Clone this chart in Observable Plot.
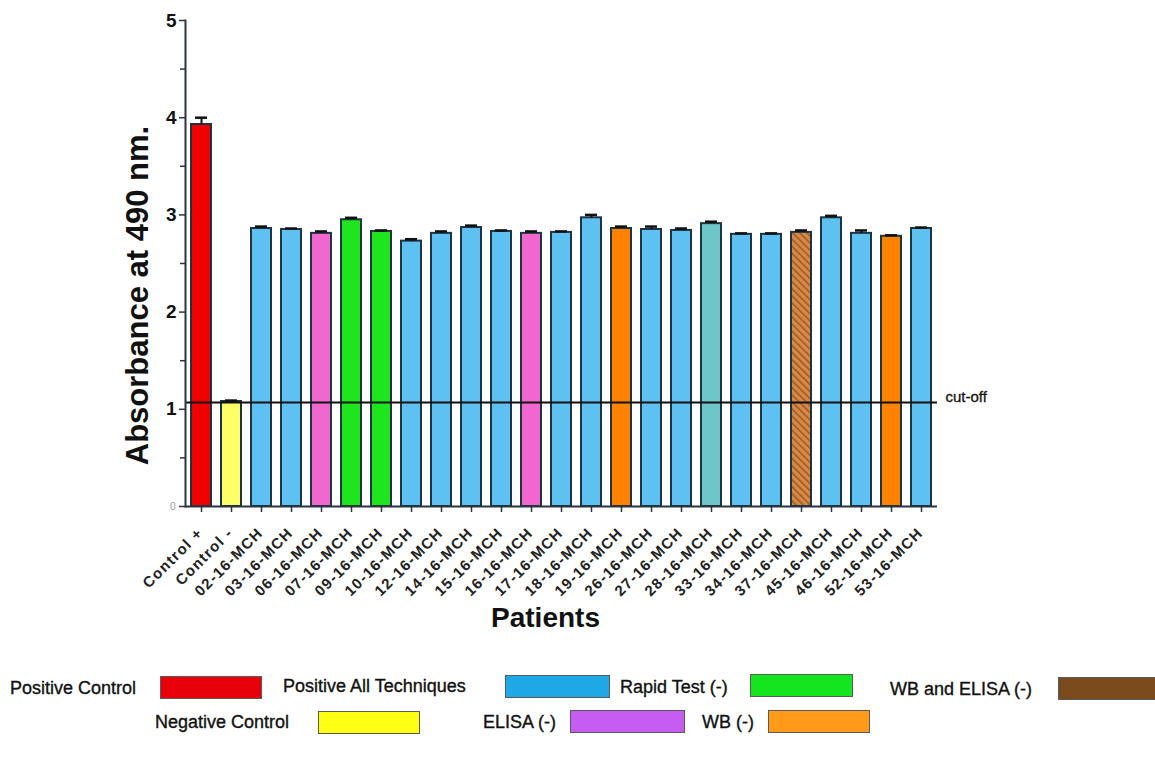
<!DOCTYPE html>
<html><head><meta charset="utf-8">
<script src="https://cdn.jsdelivr.net/npm/d3@7"></script>
<script src="https://cdn.jsdelivr.net/npm/@observablehq/plot@0.6"></script>
<style>
body{margin:0;background:#fff;font-family:"Liberation Sans",Arial,sans-serif;}
#wrap{position:relative;width:1155px;height:763px;overflow:hidden;background:#fff;}
#chart svg{display:block;}
.lg{position:absolute;font-size:18px;color:#111;white-space:nowrap;line-height:18px;-webkit-text-stroke:0.35px #111;}
.sw{position:absolute;box-sizing:border-box;border:1.5px solid #5a5a5a;}
</style></head><body>
<div id="wrap"><div id="chart"></div><div id="legend"></div></div>
<script>
// ---- data ----
const patients = ["Control +","Control -","02-16-MCH","03-16-MCH","06-16-MCH","07-16-MCH","09-16-MCH","10-16-MCH","12-16-MCH","14-16-MCH","15-16-MCH","16-16-MCH","17-16-MCH","18-16-MCH","19-16-MCH","26-16-MCH","27-16-MCH","28-16-MCH","33-16-MCH","34-16-MCH","37-16-MCH","45-16-MCH","46-16-MCH","52-16-MCH","53-16-MCH"];
const absorbance = [3.93,1.08,2.86,2.85,2.81,2.95,2.83,2.73,2.81,2.87,2.83,2.81,2.82,2.97,2.86,2.85,2.84,2.91,2.80,2.80,2.82,2.97,2.81,2.78,2.86];
const errors = [0.07,0.01,0.02,0.01,0.02,0.02,0.01,0.02,0.02,0.02,0.01,0.02,0.01,0.03,0.02,0.03,0.02,0.02,0.01,0.01,0.02,0.02,0.03,0.01,0.01];
const groups = ["Positive Control","Negative Control","Positive All Techniques","Positive All Techniques","ELISA (-)","Rapid Test (-)","Rapid Test (-)","Positive All Techniques","Positive All Techniques","Positive All Techniques","Positive All Techniques","ELISA (-)","Positive All Techniques","Positive All Techniques","WB (-)","Positive All Techniques","Positive All Techniques","Other","Positive All Techniques","Positive All Techniques","WB and ELISA (-)","Positive All Techniques","Positive All Techniques","WB (-)","Positive All Techniques"];
const groupNames = ["Positive Control","Negative Control","Positive All Techniques","ELISA (-)","Rapid Test (-)","WB (-)","WB and ELISA (-)","Other"];
const cutoff = 1.07;
const majorTicks = [1,2,3,4,5];
const minorTicks = [0.5,1.5,2.5,3.5,4.5];
const zeroTick = [0];
const legendRow1 = ["Positive Control","Positive All Techniques","Rapid Test (-)","WB and ELISA (-)"];
const legendRow2 = ["Negative Control","ELISA (-)","WB (-)"];

// ---- styles ----
const barFills = ["#f00000","#ffff66","#5ec1f2","#f067cf","#1ee61e","#ff8200","url(#hatch)","#6fc6c8"];
const legendFills = {"Positive Control":"#e8000a","Positive All Techniques":"#1ea9e6","Rapid Test (-)":"#15e51f","WB and ELISA (-)":"#7b4b1d","Negative Control":"#ffff14","ELISA (-)":"#c65cf2","WB (-)":"#ff9a1a"};

const data = patients.map((p,i)=>({patient:p, value:absorbance[i], err:errors[i], group:groups[i]}));

const chart = Plot.plot({
  width: 1155, height: 655,
  marginLeft: 185, marginRight: 218, marginTop: 20, marginBottom: 149,
  style: {fontFamily: "'Liberation Sans', Arial, sans-serif", background: "#fff", color: "#111"},
  x: {domain: patients, paddingInner: 0.34, paddingOuter: 0.13, axis: null},
  y: {domain: [0, 5], axis: null},
  color: {domain: groupNames, range: barFills},
  marks: [
    Plot.barY(data, {x: "patient", y: "value", fill: "group", stroke: "#1d3442", strokeWidth: 2}),
    Plot.ruleX(data, {x: "patient", y1: "value", y2: d => d.value + d.err, stroke: "#111", strokeWidth: 2}),
    Plot.tickY(data, {x: "patient", y: d => d.value + d.err, stroke: "#111", strokeWidth: 2.5, inset: 4}),
    Plot.ruleY([cutoff], {stroke: "#111", strokeWidth: 2}),
    Plot.text([cutoff], {y: d => d, frameAnchor: "right", text: () => "cut-off", textAnchor: "start", dx: 8, dy: -5, fontSize: 15, fill: "#111", stroke: "#111", strokeWidth: 0.3}),
    Plot.ruleY([0], {stroke: "#2a3540", strokeWidth: 2}),
    Plot.frame({anchor: "left", stroke: "#2a3540", strokeWidth: 2}),
    Plot.axisX({tickSize: 6, tickFormat: () => "", label: null, stroke: "#2a3540", strokeWidth: 1.5}),
    Plot.axisY({ticks: majorTicks, tickSize: 6, tickPadding: 3, tickFormat: d => String(d), fontSize: 19, fontWeight: "bold", label: null, stroke: "#2a3540", strokeWidth: 1.5, fill: "#111"}),
    Plot.axisY({ticks: minorTicks, tickSize: 5, tickFormat: () => "", label: null, stroke: "#2a3540", strokeWidth: 1.5}),
    Plot.axisY({ticks: zeroTick, tickSize: 6, tickPadding: 4, tickFormat: d => String(d), fontSize: 10, label: null, fill: "#999", stroke: "#2a3540", strokeWidth: 1.5}),
    Plot.text(data, {x: "patient", y: () => 0, text: "patient", rotate: -45, textAnchor: "end", dx: -1, dy: 24, fontSize: 15, fontWeight: "bold", fill: "#222", className: "xl"}),
    Plot.text(["Absorbance at 490 nm."], {frameAnchor: "left", textAnchor: "middle", text: d => d, rotate: -90, dx: -47, dy: 32, fontSize: 31, fontWeight: "bold", fill: "#111"}),
    Plot.text(["Patients"], {frameAnchor: "bottom", textAnchor: "middle", lineAnchor: "middle", text: d => d, dx: -16, dy: 112, fontSize: 28, fontWeight: "bold", fill: "#111"})
  ]
});

d3.select(chart).insert("defs", ":first-child").html(
  '<pattern id="hatch" width="5" height="5" patternUnits="userSpaceOnUse" patternTransform="rotate(-45)">' +
  '<rect width="5" height="5" fill="#d88b48"></rect><rect width="1.6" height="5" fill="#9c5a26"></rect></pattern>');
d3.select(chart).selectAll(".xl text").style("letter-spacing", "1.3px");
document.getElementById("chart").appendChild(chart);

// ---- legend (HTML, below the SVG) ----
const legendLayout = {
  "Positive Control": {tx: 10, ty: 679, sx: 160, sy: 676, sw: 102},
  "Positive All Techniques": {tx: 283, ty: 677, sx: 505, sy: 675, sw: 105},
  "Rapid Test (-)": {tx: 620, ty: 678, sx: 750, sy: 674, sw: 103},
  "WB and ELISA (-)": {tx: 890, ty: 680, sx: 1058, sy: 677, sw: 100},
  "Negative Control": {tx: 155, ty: 713, sx: 318, sy: 711, sw: 102},
  "ELISA (-)": {tx: 483, ty: 713, sx: 570, sy: 710, sw: 115},
  "WB (-)": {tx: 702, ty: 713, sx: 768, sy: 710, sw: 102}
};
const lg = document.getElementById("legend");
[...legendRow1, ...legendRow2].forEach(name => {
  const L = legendLayout[name];
  const t = document.createElement("div");
  t.className = "lg"; t.textContent = name;
  t.style.left = L.tx + "px"; t.style.top = L.ty + "px";
  lg.appendChild(t);
  const s = document.createElement("div");
  s.className = "sw";
  s.style.left = L.sx + "px"; s.style.top = L.sy + "px";
  s.style.width = L.sw + "px"; s.style.height = "23px";
  s.style.background = legendFills[name];
  lg.appendChild(s);
});
</script>
</body></html>
